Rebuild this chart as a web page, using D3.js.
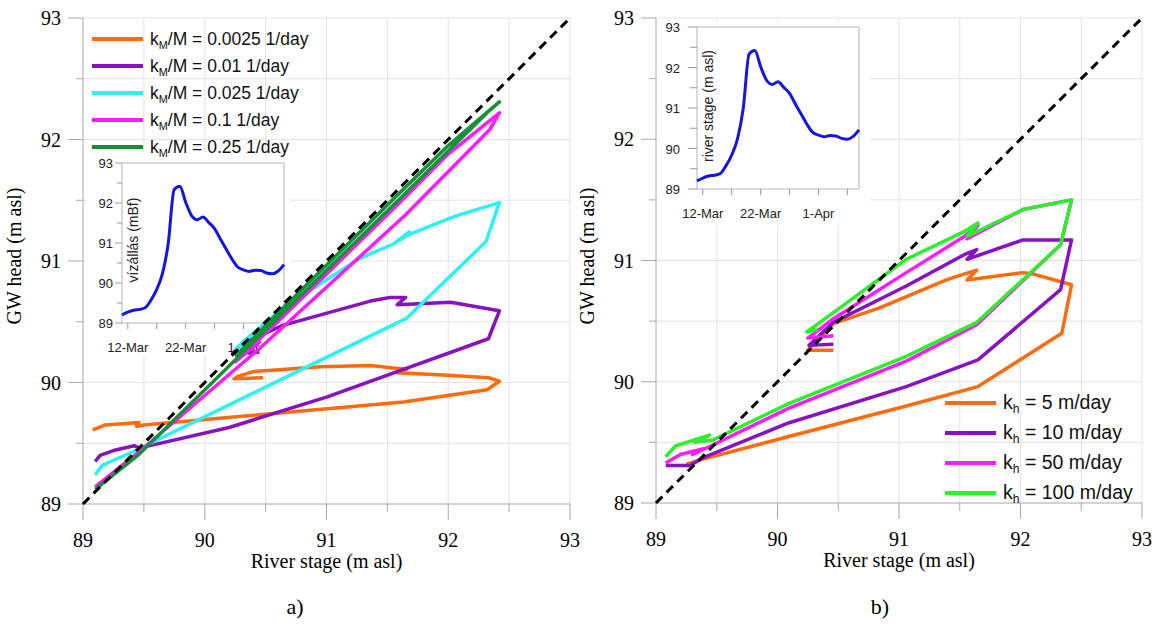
<!DOCTYPE html>
<html>
<head>
<meta charset="utf-8">
<script src="https://cdn.jsdelivr.net/npm/d3@7"></script>
<style>
  body { margin: 0; background: #fff; }
  svg { display: block; }
</style>
</head>
<body>
<div id="chart"></div>
<script>
/* ---------- data: [river stage, GW head] pairs ---------- */

// panel a) leakance kM/M
const km0025 = [[89.08,89.61],[89.18,89.65],[89.46,89.67],[89.44,89.64],[89.50,89.65],[91.63,89.84],[92.32,89.94],[92.42,90.01],[92.33,90.04],[92.00,90.06],[91.58,90.08],[91.66,90.11],[91.55,90.12],[91.36,90.14],[90.95,90.13],[90.40,90.09],[90.27,90.05],[90.24,90.03],[90.48,90.04]];
const km001 = [[89.10,89.35],[89.14,89.40],[89.25,89.44],[89.42,89.48],[89.46,89.46],[90.20,89.63],[91.00,89.88],[92.33,90.36],[92.42,90.59],[92.02,90.66],[91.58,90.64],[91.65,90.70],[91.52,90.70],[91.36,90.67],[90.64,90.47],[90.31,90.32],[90.23,90.24],[90.45,90.25]];
const km0025b = [[89.10,89.24],[89.16,89.32],[89.41,89.43],[91.66,90.53],[92.31,91.16],[92.42,91.48],[92.09,91.38],[92.01,91.35],[91.66,91.21],[91.60,91.17],[91.68,91.24],[91.55,91.14],[91.27,91.02],[90.64,90.61],[90.31,90.33],[90.26,90.28],[90.43,90.37]];
const km01 = [[89.10,89.14],[89.45,89.42],[90.45,90.28],[91.65,91.38],[92.34,92.08],[92.42,92.22],[92.00,91.88],[91.60,91.48],[90.60,90.50],[90.25,90.17],[90.46,90.34]];
const km025 = [[89.10,89.12],[89.45,89.40],[91.65,91.56],[92.34,92.24],[92.42,92.31],[92.00,91.95],[91.60,91.56],[90.60,90.57],[90.26,90.22],[90.47,90.42]];

// panel b) hydraulic conductivity kh
const kh5 = [[89.25,89.32],[89.38,89.36],[90.10,89.55],[91.06,89.80],[91.65,89.96],[92.34,90.40],[92.42,90.80],[92.10,90.89],[92.02,90.90],[91.56,90.84],[91.64,90.92],[91.54,90.89],[91.39,90.84],[90.84,90.61],[90.46,90.48],[90.25,90.26],[90.46,90.26]];
const kh10 = [[89.08,89.31],[89.28,89.31],[89.38,89.37],[90.09,89.66],[91.06,89.96],[91.65,90.18],[92.33,90.76],[92.42,91.17],[92.02,91.17],[91.56,91.01],[91.64,91.09],[91.54,91.05],[91.06,90.79],[90.46,90.49],[90.26,90.30],[90.46,90.31]];
const kh50 = [[89.08,89.33],[89.20,89.40],[89.40,89.45],[89.30,89.40],[89.45,89.47],[90.09,89.78],[91.06,90.17],[91.64,90.47],[92.33,91.13],[92.42,91.50],[92.02,91.42],[91.56,91.18],[91.65,91.29],[91.54,91.20],[91.06,90.90],[90.46,90.52],[90.25,90.36],[90.46,90.38]];
const kh100 = [[89.08,89.38],[89.16,89.47],[89.44,89.56],[89.32,89.50],[89.47,89.52],[90.09,89.82],[91.06,90.21],[91.64,90.49],[92.33,91.13],[92.42,91.50],[92.02,91.42],[91.56,91.20],[91.65,91.31],[91.54,91.24],[91.06,91.01],[90.46,90.57],[90.24,90.41],[90.33,90.43]];

// inset hydrograph: daily river stage from 11-Mar
const stageDays = d3.range(0, 29);
const stageVals = [89.20,89.27,89.32,89.34,89.38,89.57,89.84,90.24,91.00,92.33,92.42,92.02,91.69,91.58,91.65,91.51,91.36,91.10,90.85,90.60,90.40,90.33,90.29,90.32,90.31,90.25,90.23,90.30,90.46];

const kmLabels = ['0.0025', '0.01', '0.025', '0.1', '0.25'];
const khLabels = ['5', '10', '50', '100'];
const axisTicks = [89, 90, 91, 92, 93];

const kmColors = ['#ff6b0d', '#8612c4', '#2ef2f2', '#ff1cff', '#16913a'];
const khColors = ['#ff6b0d', '#8612c4', '#ff1cff', '#2cf02c'];

/* ---------- svg ---------- */
const svg = d3.select('#chart').append('svg')
  .attr('width', 1155)
  .attr('height', 630);

const serif = '"Liberation Serif", "Times New Roman", serif';
const sans = '"Liberation Sans", Arial, sans-serif';

function drawPanel(p) {
  const x = d3.scaleLinear().domain([89, 93]).range([p.x0, p.x1]);
  const y = d3.scaleLinear().domain([89, 93]).range([p.y0, p.y1]);
  const g = svg.append('g');
  const half = d3.range(89.5, 93.01, 0.5);

  // grid
  g.selectAll('.vg').data(half).enter().append('line')
    .attr('x1', d => x(d)).attr('x2', d => x(d))
    .attr('y1', y(89)).attr('y2', y(93))
    .attr('stroke', '#e3e3e3').attr('stroke-width', 1);
  g.selectAll('.hg').data(half).enter().append('line')
    .attr('x1', x(89)).attr('x2', x(93))
    .attr('y1', d => y(d)).attr('y2', d => y(d))
    .attr('stroke', '#e3e3e3').attr('stroke-width', 1);

  // axes lines + ticks
  g.append('line').attr('x1', x(89)).attr('x2', x(89)).attr('y1', y(89)).attr('y2', y(93))
    .attr('stroke', '#a8a8a8');
  g.append('line').attr('x1', x(89)).attr('x2', x(93)).attr('y1', y(89)).attr('y2', y(89))
    .attr('stroke', '#a8a8a8');
  const all = d3.range(89, 93.01, 0.5);
  g.selectAll('.xt').data(all).enter().append('line')
    .attr('x1', d => x(d)).attr('x2', d => x(d))
    .attr('y1', y(89)).attr('y2', d => y(89) + (d % 1 === 0 ? 16 : 8))
    .attr('stroke', '#a8a8a8');
  g.selectAll('.yt').data(all).enter().append('line')
    .attr('y1', d => y(d)).attr('y2', d => y(d))
    .attr('x1', x(89)).attr('x2', d => x(89) - (d % 1 === 0 ? 15 : 7))
    .attr('stroke', '#a8a8a8');

  // tick labels
  g.selectAll('.xl').data(axisTicks).enter().append('text')
    .attr('x', d => x(d)).attr('y', y(89) + 43)
    .attr('text-anchor', 'middle')
    .style('font-family', serif).style('font-size', '20px')
    .text(d => d);
  g.selectAll('.yl').data(axisTicks).enter().append('text')
    .attr('x', x(89) - 22).attr('y', d => y(d) + 7)
    .attr('text-anchor', 'end')
    .style('font-family', serif).style('font-size', '20px')
    .text(d => d);

  // titles
  g.append('text')
    .attr('x', (p.x0 + p.x1) / 2).attr('y', y(89) + 64)
    .attr('text-anchor', 'middle')
    .style('font-family', serif).style('font-size', '20px')
    .text('River stage (m asl)');
  g.append('text')
    .attr('transform', `translate(${p.ylabX},256) rotate(-90)`)
    .attr('text-anchor', 'middle')
    .style('font-family', serif).style('font-size', '20px')
    .text('GW head (m asl)');
  g.append('text')
    .attr('x', p.tagX).attr('y', 614)
    .attr('text-anchor', 'middle')
    .style('font-family', serif).style('font-size', '22px')
    .text(p.tag);

  return { g, x, y };
}

function drawInset(g, b) {
  const ix = d3.scaleLinear().domain([0, 28]).range([b.x, b.x + b.w]);
  const iy = d3.scaleLinear().domain([89, 93]).range([b.y + b.h, b.y]);

  g.append('rect')
    .attr('x', b.bgx).attr('y', b.bgy).attr('width', b.bgw).attr('height', b.bgh)
    .attr('fill', '#fff');
  g.append('rect')
    .attr('x', b.x).attr('y', b.y).attr('width', b.w).attr('height', b.h)
    .attr('fill', '#fff').attr('stroke', '#b5b5b5');

  const yt = d3.range(89, 93.01, 0.5);
  g.selectAll('.iyt').data(yt).enter().append('line')
    .attr('x1', b.x).attr('x2', d => b.x - (d % 1 === 0 ? b.tick : b.tick - 2))
    .attr('y1', d => iy(d)).attr('y2', d => iy(d))
    .attr('stroke', '#999');
  g.selectAll('.iyl').data(axisTicks).enter().append('text')
    .attr('x', b.x - b.lab).attr('y', d => iy(d) + 5)
    .attr('text-anchor', 'end')
    .style('font-family', sans).style('font-size', '13px').attr('fill', '#222')
    .text(d => d);

  // date ticks every 5 days from 12-Mar (day 1)
  const xt = [1, 6, 11, 16, 21, 26];
  g.selectAll('.ixt').data(xt).enter().append('line')
    .attr('x1', d => ix(d)).attr('x2', d => ix(d))
    .attr('y1', b.y + b.h).attr('y2', b.y + b.h + 6)
    .attr('stroke', '#999');
  const dateLabels = [[1, '12-Mar'], [11, '22-Mar'], [21, '1-Apr']];
  g.selectAll('.ixl').data(dateLabels).enter().append('text')
    .attr('x', d => ix(d[0])).attr('y', b.y + b.h + 29)
    .attr('text-anchor', 'middle')
    .style('font-family', sans).style('font-size', '13px').attr('fill', '#222')
    .text(d => d[1]);

  g.append('text')
    .attr('transform', `translate(${b.lx},${b.ly}) rotate(-90)`)
    .attr('text-anchor', 'middle')
    .style('font-family', sans).style('font-size', '14px').attr('fill', '#222')
    .text(b.label);

  const line = d3.line()
    .x((d, i) => ix(stageDays[i]))
    .y(d => iy(d))
    .curve(d3.curveMonotoneX);
  g.append('path')
    .datum(stageVals)
    .attr('d', line)
    .attr('fill', 'none')
    .attr('stroke', '#1515e0')
    .attr('stroke-width', 3);
}

function drawSeries(pn, series, colors) {
  const line = d3.line().x(d => pn.x(d[0])).y(d => pn.y(d[1]));
  series.forEach((s, i) => {
    pn.g.append('path')
      .datum(s)
      .attr('d', line)
      .attr('fill', 'none')
      .attr('stroke', colors[i])
      .attr('stroke-width', 3.5)
      .attr('stroke-linejoin', 'round');
  });
  pn.g.append('path')
    .datum([[89, 89], [93, 93]])
    .attr('d', line)
    .attr('stroke', '#000')
    .attr('stroke-width', 3)
    .attr('stroke-dasharray', '9,6');
}

function drawLegend(g, items, colors, sub, x, ys, fs) {
  items.forEach((lab, i) => {
    g.append('line')
      .attr('x1', x).attr('x2', x + 51)
      .attr('y1', ys[i]).attr('y2', ys[i])
      .attr('stroke', colors[i]).attr('stroke-width', 4);
    const t = g.append('text')
      .attr('x', x + 58).attr('y', ys[i] + 6)
      .style('font-family', sans).style('font-size', fs + 'px').attr('fill', '#111');
    t.append('tspan').text('k');
    t.append('tspan').attr('dy', 4).style('font-size', (fs * 0.62) + 'px').text(sub);
    t.append('tspan').attr('dy', -4).text(lab);
  });
}

/* ---------- panel a ---------- */
const pa = drawPanel({ x0: 83, x1: 570, y0: 504, y1: 18, ylabX: 21, tag: 'a)', tagX: 295 });
drawInset(pa.g, { x: 122, y: 163, w: 162, h: 160, bgx: 87, bgy: 152, bgw: 203, bgh: 204,
  tick: 7, lab: 9, lx: 138, ly: 240, label: 'vízállás (mBf)' });
drawSeries(pa, [km0025, km001, km0025b, km01, km025], kmColors);
drawLegend(pa.g, kmLabels.map(v => `/M = ${v} 1/day`), kmColors, 'M', 92, [39, 66, 93, 120, 147], 17.5);

/* ---------- panel b ---------- */
const pb = drawPanel({ x0: 656, x1: 1142, y0: 503, y1: 18, ylabX: 594, tag: 'b)', tagX: 880 });
drawInset(pb.g, { x: 697, y: 27, w: 162, h: 162, bgx: 658, bgy: 21, bgw: 212, bgh: 204,
  tick: 9, lab: 17, lx: 713, ly: 106, label: 'river stage (m asl)' });
drawSeries(pb, [kh5, kh10, kh50, kh100], khColors);
drawLegend(pb.g, khLabels.map(v => ` = ${v} m/day`), khColors, 'h', 945, [403, 433, 463, 493], 19.5);
</script>
</body>
</html>
